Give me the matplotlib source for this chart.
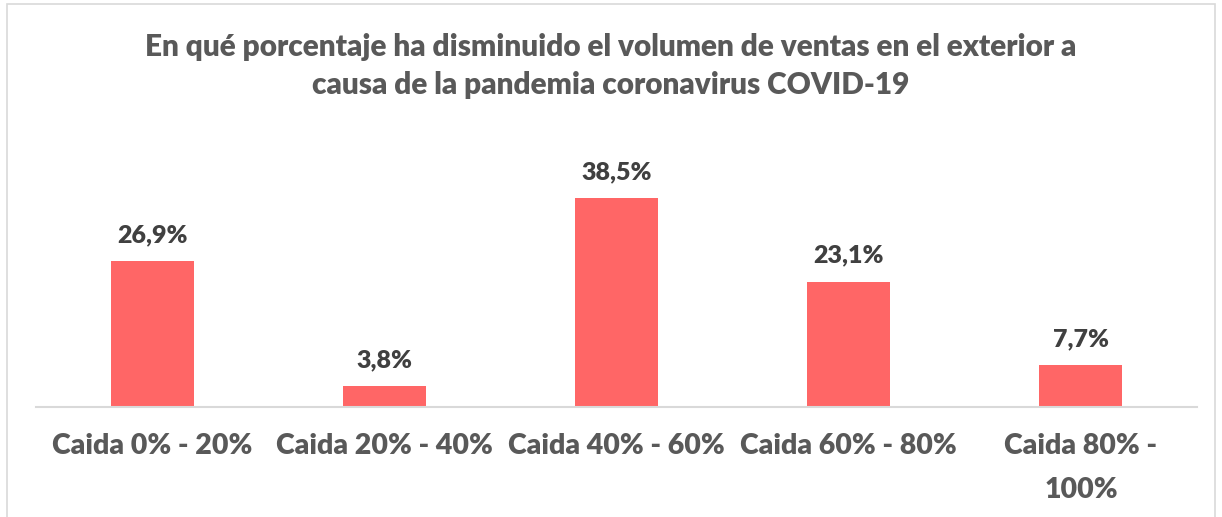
import matplotlib
matplotlib.use('Agg')
import matplotlib.pyplot as plt
from matplotlib.patches import Rectangle

# Data
categories = ['Caida 0% - 20%', 'Caida 20% - 40%', 'Caida 40% - 60%',
              'Caida 60% - 80%', 'Caida 80% -\n100%']
values = [26.9, 3.8, 38.5, 23.1, 7.7]
value_labels = ['26,9%', '3,8%', '38,5%', '23,1%', '7,7%']
title = ('En qué porcentaje ha disminuido el volumen de ventas en el exterior a\n'
         'causa de la pandemia coronavirus COVID-19')

plt.rcParams['font.family'] = ['Lato', 'DejaVu Sans']

W, H = 1222, 517
fig = plt.figure(figsize=(W / 100, H / 100), dpi=100)

# axes placed in pixel terms: baseline y=407, x from 36 to 1197
ax = fig.add_axes([36 / W, (H - 407) / H, (1197 - 36) / W, (407 - 163) / H])

x = range(len(categories))
ax.bar(x, values, width=0.357, color='#FF6666', zorder=2)

for xi, v, lab in zip(x, values, value_labels):
    ax.annotate(lab, (xi, v), xytext=(0, 11), textcoords='offset points',
                ha='center', va='bottom', fontsize=18, fontweight='heavy',
                color='#404040')

ax.set_xlim(-0.5, len(categories) - 0.5)
ax.set_ylim(0, 45)
ax.set_xticks(list(x))
ax.set_xticklabels(categories, fontsize=20.5, fontweight='heavy', color='#595959',
                   linespacing=1.85)
ax.tick_params(axis='x', length=0, pad=19)
ax.set_yticks([])

for s in ['top', 'left', 'right']:
    ax.spines[s].set_visible(False)
ax.spines['bottom'].set_color('#D9D9D9')
ax.spines['bottom'].set_linewidth(1.5)

fig.text(0.5, 1 - 66 / H, title, ha='center', va='center', fontsize=21.4,
         fontweight='heavy', color='#595959', linespacing=1.45)

# light frame around the chart area
fig.patches.append(Rectangle((7 / W, -0.01), (1215 - 7) / W, 1 - 4 / H + 0.01,
                             transform=fig.transFigure, fill=False,
                             edgecolor='#D9D9D9', linewidth=1.2))

plt.savefig('out.png', dpi=100)
